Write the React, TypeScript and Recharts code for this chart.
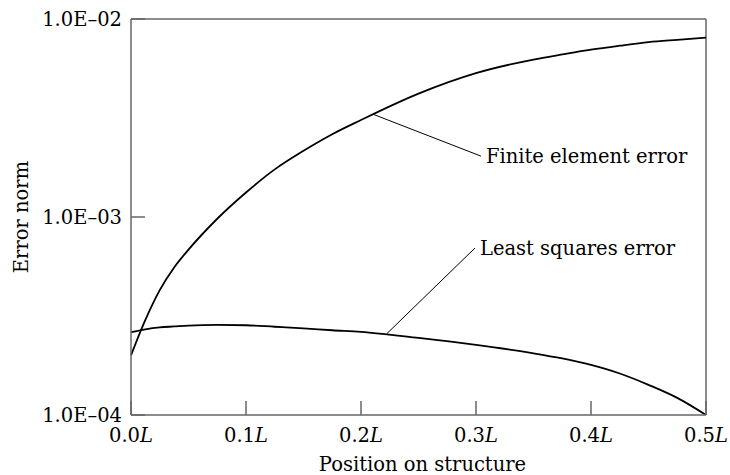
import React from 'react';
import { LineChart, Line, XAxis, YAxis, ReferenceLine, ReferenceDot } from 'recharts';

// position along the structure, as a fraction of L
const positions = [0, 0.0125, 0.025, 0.0375, 0.05, 0.075, 0.1, 0.125, 0.15, 0.175, 0.2, 0.25, 0.3, 0.35, 0.375, 0.4, 0.425, 0.45, 0.475, 0.5];
const finiteElement = [2.0e-4, 3.02e-4, 4.27e-4, 5.56e-4, 6.84e-4, 9.8e-4, 1.33e-3, 1.74e-3, 2.16e-3, 2.62e-3, 3.09e-3, 4.2e-3, 5.33e-3, 6.24e-3, 6.62e-3, 7.0e-3, 7.33e-3, 7.64e-3, 7.85e-3, 8.05e-3];
const leastSquares = [2.62e-4, 2.71e-4, 2.77e-4, 2.8e-4, 2.83e-4, 2.85e-4, 2.84e-4, 2.79e-4, 2.74e-4, 2.68e-4, 2.63e-4, 2.45e-4, 2.26e-4, 2.05e-4, 1.93e-4, 1.79e-4, 1.62e-4, 1.42e-4, 1.22e-4, 1.0e-4];

const xTicks = [0, 0.1, 0.2, 0.3, 0.4, 0.5];
const xTickLabels = ['0.0', '0.1', '0.2', '0.3', '0.4', '0.5'];
const yTicks = [1e-4, 1e-3, 1e-2];
const yTickLabels = ['1.0E–04', '1.0E–03', '1.0E–02'];

// callouts: point on the curve, end of the leader where the text starts
const feCallout = { from: { x: 0.2107, y: 3.3e-3 }, to: { x: 0.3043, y: 2.03e-3 }, text: 'Finite element error' };
const lsCallout = { from: { x: 0.2223, y: 2.57e-4 }, to: { x: 0.2991, y: 6.97e-4 }, text: 'Least squares error' };

const data = positions.map((x, i) => ({ x, fe: finiteElement[i], ls: leastSquares[i] }));

const FONT = '"DejaVu Serif", serif';
const FS = 19.5;
const AXIS = '#666';

const XTick = (props: any) => {
  const { x, y, payload } = props;
  const idx = xTicks.indexOf(payload.value);
  return (
    <g>
      <line x1={x} y1={y} x2={x} y2={y - 14} stroke={AXIS} strokeWidth={1.5} />
      <text x={x} y={y + 27} textAnchor="middle" fontFamily={FONT} fontSize={FS} fill="#000">
        {xTickLabels[idx]}
        <tspan fontStyle="italic">L</tspan>
      </text>
    </g>
  );
};

const YTick = (props: any) => {
  const { x, y, payload } = props;
  const idx = yTicks.findIndex((t) => Math.abs(t - payload.value) < t * 1e-6);
  return (
    <g>
      <line x1={x} y1={y} x2={x + 14} y2={y} stroke={AXIS} strokeWidth={1.5} />
      <text x={x - 9} y={y} dy="0.36em" textAnchor="end" fontFamily={FONT} fontSize={FS} fill="#000">
        {yTickLabels[idx]}
      </text>
    </g>
  );
};

const App: React.FC = () => {
  return (
    <div style={{ position: 'absolute', left: 0, top: 0, background: '#fff' }}>
      <LineChart width={730} height={475} data={data} margin={{ top: 19, right: 24, left: 0, bottom: 0 }}>
        <XAxis
          type="number"
          dataKey="x"
          domain={[0, 0.5]}
          ticks={xTicks}
          height={60}
          tickSize={0}
          tickMargin={0}
          tickLine={false}
          tick={<XTick />}
          axisLine={{ stroke: AXIS, strokeWidth: 1.5 }}
          label={{
            content: (p: any) => (
              <text x={p.viewBox.x + p.viewBox.width / 2 + 4} y={p.viewBox.y + 56} textAnchor="middle" fontFamily={FONT} fontSize={FS} fill="#000">
                Position on structure
              </text>
            ),
          }}
        />
        <YAxis
          scale="log"
          domain={[1e-4, 1e-2]}
          ticks={yTicks}
          allowDataOverflow
          width={131}
          tickSize={0}
          tickMargin={0}
          tickLine={false}
          tick={<YTick />}
          axisLine={{ stroke: AXIS, strokeWidth: 1.5 }}
          label={{
            content: (p: any) => {
              const cx = p.viewBox.x + 21;
              const cy = p.viewBox.y + p.viewBox.height / 2;
              return (
                <text x={cx} y={cy} dy="0.36em" transform={`rotate(-90 ${cx} ${cy})`} textAnchor="middle" fontFamily={FONT} fontSize={FS} fill="#000">
                  Error norm
                </text>
              );
            },
          }}
        />
        <ReferenceLine y={1e-2} stroke={AXIS} strokeWidth={1.5} />
        <ReferenceLine x={0.5} stroke={AXIS} strokeWidth={1.5} />
        <Line type="monotone" dataKey="fe" stroke="#000" strokeWidth={1.8} dot={false} isAnimationActive={false} />
        <Line type="monotone" dataKey="ls" stroke="#000" strokeWidth={1.8} dot={false} isAnimationActive={false} />
        {[feCallout, lsCallout].map((c) => (
          <ReferenceLine key={c.text + '-line'} segment={[c.from, c.to]} stroke="#000" strokeWidth={1} />
        ))}
        {[feCallout, lsCallout].map((c) => (
          <ReferenceDot
            key={c.text}
            x={c.to.x}
            y={c.to.y}
            r={0}
            stroke="none"
            fill="none"
            label={{ value: c.text, position: 'right', offset: 5, fill: '#000', fontSize: FS, fontFamily: FONT }}
          />
        ))}
      </LineChart>
    </div>
  );
};

export default App;
